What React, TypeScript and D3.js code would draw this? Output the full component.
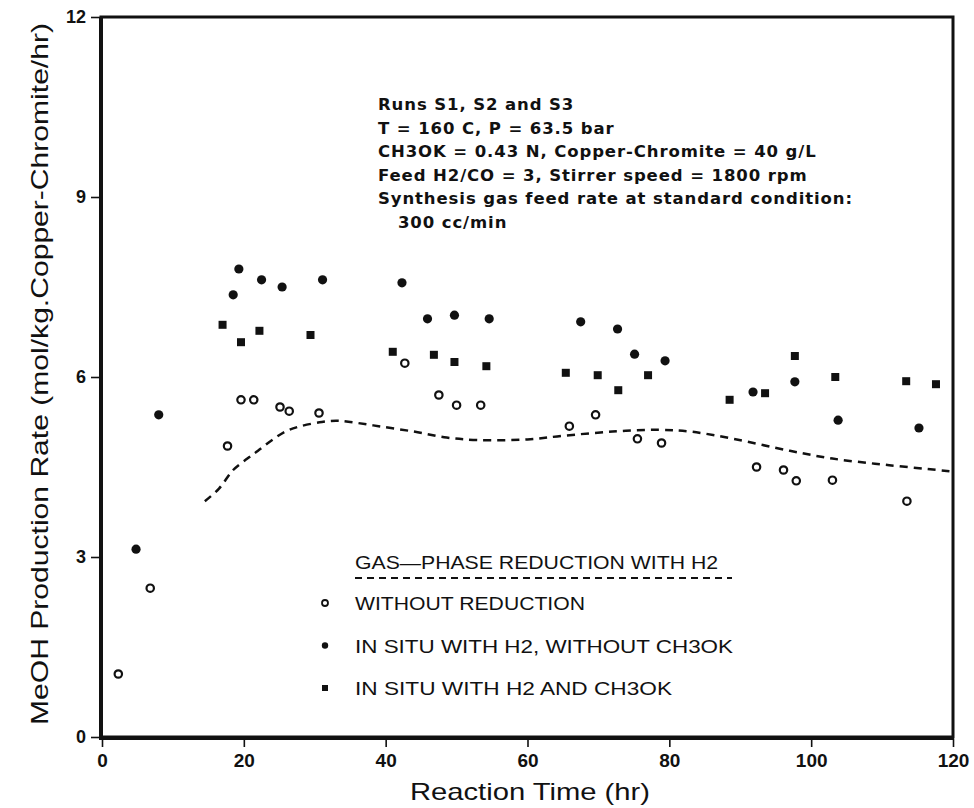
import { useEffect, useRef } from 'react';
import * as d3 from 'd3';

// Reaction time (hr), MeOH rate (mol/kg cat/hr)
const withoutReduction: [number, number][] = [
    [2.3, 1.05], [6.8, 2.48], [17.7, 4.85], [19.6, 5.62], [21.4, 5.62], [25.1, 5.5],
    [26.4, 5.43], [30.6, 5.4], [42.7, 6.23], [47.5, 5.7], [50.0, 5.53], [53.4, 5.53],
    [65.9, 5.18], [69.6, 5.37], [75.5, 4.97], [78.9, 4.9], [92.3, 4.5], [96.1, 4.45],
    [97.9, 4.27], [103.0, 4.28], [113.5, 3.93],
];

const inSituNoKOMe: [number, number][] = [
    [4.8, 3.13], [8.0, 5.37], [18.5, 7.37], [19.3, 7.8], [22.5, 7.62], [25.4, 7.5],
    [31.1, 7.62], [42.3, 7.57], [45.9, 6.97], [49.7, 7.03], [54.6, 6.97], [67.5, 6.92],
    [72.7, 6.8], [75.1, 6.38], [79.4, 6.27], [91.8, 5.75], [97.7, 5.92], [103.8, 5.28],
    [115.2, 5.15],
];

const inSituWithKOMe: [number, number][] = [
    [17.0, 6.87], [19.6, 6.58], [22.2, 6.77], [29.4, 6.7], [41.0, 6.42], [46.8, 6.37],
    [49.7, 6.25], [54.2, 6.18], [65.4, 6.07], [69.9, 6.03], [72.8, 5.78], [77.0, 6.03],
    [88.5, 5.62], [93.5, 5.73], [97.7, 6.35], [103.4, 6.0], [113.4, 5.93], [117.6, 5.88],
];

// dashed curve: gas-phase reduction with H2
const gasPhaseCurve: [number, number][] = [
    [14.5, 3.93], [16.5, 4.14], [18.5, 4.45], [20.5, 4.64], [22, 4.77], [24, 4.95],
    [26, 5.1], [28, 5.18], [31, 5.25], [33, 5.27], [35, 5.25], [39, 5.18], [44, 5.09],
    [48.6, 4.99], [53, 4.95], [60, 4.96], [65, 5.02], [72, 5.09], [78.6, 5.12], [83, 5.09],
    [89, 4.97], [97, 4.77], [103, 4.64], [111, 4.53], [119.5, 4.43],
];

const xTicks = [0, 20, 40, 60, 80, 100, 120];
const yTicks = [0, 3, 6, 9, 12];

const noteLines = [
    'Runs S1, S2 and S3',
    'T = 160 C, P = 63.5 bar',
    'CH3OK = 0.43 N, Copper-Chromite = 40 g/L',
    'Feed H2/CO = 3, Stirrer speed = 1800 rpm',
    'Synthesis gas feed rate at standard condition:',
    '   300 cc/min',
];

const legendTitle = 'GAS\u2014PHASE REDUCTION WITH H2';
const legendItems = [
    { label: 'WITHOUT REDUCTION', shape: 'open', len: 230 },
    { label: 'IN SITU WITH H2, WITHOUT CH3OK', shape: 'dot', len: 378 },
    { label: 'IN SITU WITH H2 AND CH3OK', shape: 'square', len: 317 },
];

const W = 974;
const H = 808;
const INK = '#111';
const FONT = '"Liberation Sans", Arial, sans-serif';
const NOTE_FONT = '"DejaVu Sans", sans-serif';

export default function App() {
    const svgRef = useRef<SVGSVGElement>(null);

    useEffect(() => {
        if (!svgRef.current) return;
        const svg = d3.select(svgRef.current);
        svg.selectAll('*').remove();

        const x = d3.scaleLinear().domain([0, 120]).range([102, 953]);
        const y = d3.scaleLinear().domain([0, 12]).range([737, 17]);

        const g = svg.append('g');

        // frame: heavier left/bottom like the scan
        g.append('rect')
            .attr('x', x(0) - 1).attr('y', y(12))
            .attr('width', x(120) - x(0) + 1).attr('height', y(0) - y(12))
            .attr('fill', 'none').attr('stroke', INK).attr('stroke-width', 3);
        g.append('line')
            .attr('x1', x(0) - 1).attr('x2', x(0) - 1).attr('y1', y(12)).attr('y2', y(0) + 2)
            .attr('stroke', INK).attr('stroke-width', 4);
        g.append('line')
            .attr('x1', x(0) - 3).attr('x2', x(120) + 1).attr('y1', y(0) + 1).attr('y2', y(0) + 1)
            .attr('stroke', INK).attr('stroke-width', 4);

        // y axis ticks + labels
        const yAxis = g.append('g').attr('transform', `translate(${x(0) - 2},0)`)
            .call(d3.axisLeft(y).tickValues(yTicks).tickSize(9).tickPadding(5));
        yAxis.select('.domain').remove();
        yAxis.attr('font-family', null).attr('font-size', null);
        yAxis.selectAll('line').attr('stroke', INK).attr('stroke-width', 1.6);
        yAxis.selectAll('text')
            .style('font-family', FONT).style('font-weight', '700')
            .style('font-size', '18px').attr('fill', INK);

        const xAxis = g.append('g').attr('transform', `translate(0,${y(0) + 2})`)
            .call(d3.axisBottom(x).tickValues(xTicks).tickSize(8).tickPadding(7));
        xAxis.select('.domain').remove();
        xAxis.attr('font-family', null).attr('font-size', null);
        xAxis.selectAll('line').attr('stroke', INK).attr('stroke-width', 1.6);
        xAxis.selectAll('text')
            .style('font-family', FONT).style('font-weight', '700')
            .style('font-size', '19px').attr('fill', INK);

        // axis titles
        g.append('text')
            .attr('x', 530).attr('y', 800)
            .attr('text-anchor', 'middle')
            .attr('textLength', 240).attr('lengthAdjust', 'spacingAndGlyphs')
            .style('font-family', FONT).style('font-size', '24px').attr('fill', INK)
            .text('Reaction Time (hr)');

        g.append('text')
            .attr('transform', `translate(48,374) rotate(-90)`)
            .attr('text-anchor', 'middle')
            .attr('textLength', 702).attr('lengthAdjust', 'spacingAndGlyphs')
            .style('font-family', FONT).style('font-size', '24px').attr('fill', INK)
            .text('MeOH Production Rate (mol/kg.Copper-Chromite/hr)');

        // dashed curve
        const line = d3.line<[number, number]>()
            .x(d => x(d[0])).y(d => y(d[1]))
            .curve(d3.curveCatmullRom);
        g.append('path')
            .datum(gasPhaseCurve)
            .attr('d', line)
            .attr('fill', 'none').attr('stroke', INK)
            .attr('stroke-width', 2.5).attr('stroke-dasharray', '8,6');

        // markers
        g.append('g').selectAll('circle').data(withoutReduction).join('circle')
            .attr('cx', d => x(d[0])).attr('cy', d => y(d[1])).attr('r', 3.7)
            .attr('fill', 'white').attr('stroke', INK).attr('stroke-width', 2.2);

        g.append('g').selectAll('circle').data(inSituNoKOMe).join('circle')
            .attr('cx', d => x(d[0])).attr('cy', d => y(d[1])).attr('r', 4.6)
            .attr('fill', INK);

        g.append('g').selectAll('rect').data(inSituWithKOMe).join('rect')
            .attr('x', d => x(d[0]) - 4).attr('y', d => y(d[1]) - 4)
            .attr('width', 8).attr('height', 8)
            .attr('fill', INK);

        // annotation
        const note = g.append('text')
            .style('font-family', NOTE_FONT).style('font-weight', 'bold')
            .style('font-size', '16.5px').style('letter-spacing', '0.9px')
            .attr('fill', INK)
            .attr('xml:space', 'preserve');
        noteLines.forEach((t, i) => {
            note.append('tspan').attr('x', 378).attr('y', 110 + i * 23.6).text(t);
        });

        // legend
        const lg = g.append('g');
        lg.append('text')
            .attr('x', 355).attr('y', 569)
            .attr('textLength', 363).attr('lengthAdjust', 'spacingAndGlyphs')
            .style('font-family', FONT).style('font-size', '18px').attr('fill', INK)
            .text(legendTitle);
        lg.append('line')
            .attr('x1', 355).attr('x2', 732).attr('y1', 578).attr('y2', 578)
            .attr('stroke', INK).attr('stroke-width', 2).attr('stroke-dasharray', '7,5');

        legendItems.forEach((it, i) => {
            const cy = 603 + i * 42.5;
            if (it.shape === 'open') {
                lg.append('circle').attr('cx', 325).attr('cy', cy).attr('r', 3)
                    .attr('fill', 'white').attr('stroke', INK).attr('stroke-width', 1.8);
            } else if (it.shape === 'dot') {
                lg.append('circle').attr('cx', 325).attr('cy', cy).attr('r', 3.2).attr('fill', INK);
            } else {
                lg.append('rect').attr('x', 322).attr('y', cy - 3).attr('width', 6).attr('height', 6)
                    .attr('fill', INK);
            }
            lg.append('text')
                .attr('x', 355).attr('y', cy + 7)
                .attr('textLength', it.len).attr('lengthAdjust', 'spacingAndGlyphs')
                .style('font-family', FONT).style('font-size', '19px').attr('fill', INK)
                .text(it.label);
        });
    }, []);

    return (
        <svg ref={svgRef} width={W} height={H}
            style={{ position: 'absolute', left: 0, top: 0, background: 'white' }} />
    );
}
